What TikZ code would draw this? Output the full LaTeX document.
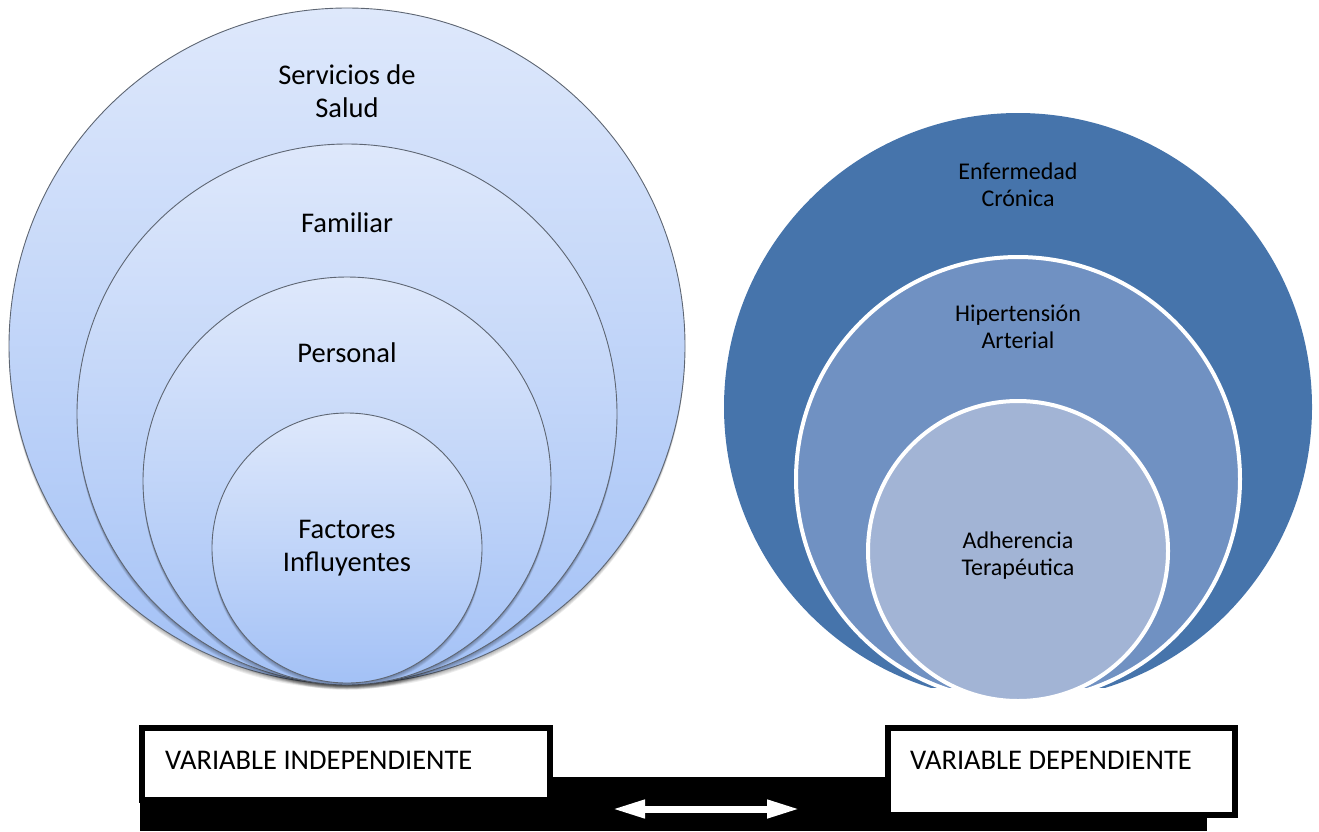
\documentclass[tikz,border=0pt]{standalone}
\usepackage{fontspec}
\setmainfont{Carlito}
\usetikzlibrary{arrows.meta,calc}

\definecolor{ringtop}{HTML}{DEE8FB}
\definecolor{ringbot}{HTML}{A3C1F6}
\definecolor{ringline}{HTML}{5E6673}
\definecolor{depouter}{HTML}{4674AB}
\definecolor{depmid}{HTML}{7091C2}
\definecolor{depinner}{HTML}{A2B4D5}

\tikzset{
  ring/.style={circle, inner sep=0pt, minimum size=#1, draw=ringline,
    line width=0.9pt, top color=ringtop, bottom color=ringbot},
  ringshadow/.style={fill=black, opacity=0.07},
  disc/.style={circle, inner sep=0pt, minimum size=#1},
  bigtext/.style={font=\fontsize{28.5}{33}\selectfont, align=center, anchor=base},
  smalltext/.style={font=\fontsize{24}{26.5}\selectfont, align=center, anchor=base},
  varbox/.style={draw=black, line width=6pt, fill=white, inner sep=0pt},
  boxtext/.style={font=\fontsize{28.5}{33}\selectfont, anchor=base west, inner sep=0pt},
}

\begin{document}
\begin{tikzpicture}[x=1pt, y=-1pt]
  \useasboundingbox (0,0) rectangle (1319,831);

  % independent variable: nested circles, each with a soft shadow below
  \foreach \k in {1,...,5} \fill[ringshadow] (347,346+\k) circle[radius=338];
  \node[ring=676pt] (sv) at (347,346) {};
  \foreach \k in {1,...,5} \fill[ringshadow] (347,414+\k) circle[radius=270];
  \node[ring=540pt] (fam) at (347,414) {};
  \foreach \k in {1,...,5} \fill[ringshadow] (347,481+\k) circle[radius=204];
  \node[ring=408pt] (per) at (347,481) {};
  \foreach \k in {1,...,5} \fill[ringshadow] (347,548+\k) circle[radius=135];
  \node[ring=270pt] (fac) at (347,548) {};

  % labels: the base anchor sits on the last line
  \node[bigtext] (svT)  at (347,117) {Servicios de\\Salud};
  \node[bigtext] (famT) at (347,232) {Familiar};
  \node[bigtext] (perT) at (347,362) {Personal};
  \node[bigtext] (facT) at (347,571) {Factores\\Influyentes};

  % dependent variable: nested discs with white rims
  \begin{scope}
    \clip (700,0) rectangle (1319,687);
    \node[disc=588pt, fill=depouter] (enf) at (1018,407) {};
    \node[disc=444pt, fill=depmid, draw=white, line width=4pt] (hip) at (1018,479) {};
  \end{scope}
  \node[disc=300pt, fill=depinner, draw=white, line width=4pt] (adh) at (1018,551) {};

  \node[smalltext] (enfT) at (1018,206) {Enfermedad\\Crónica};
  \node[smalltext] (hipT) at (1018,348) {Hipertensión\\Arterial};
  \node[smalltext] (adhT) at (1018,575) {Adherencia\\Terapéutica};

  % black band behind the two labels
  \fill[black] (140,777) rectangle (1207,831);

  \node[varbox, minimum width=408pt, minimum height=72pt] (indep) at (346,764) {};
  \node[varbox, minimum width=347pt, minimum height=87pt] (dep) at (1061.5,771.5) {};
  \node[boxtext] (indepT) at ($(indep.north west)+(26,44)$) {VARIABLE INDEPENDIENTE};
  \node[boxtext] (depT) at ($(dep.north west)+(25,44)$) {VARIABLE DEPENDIENTE};

  % two-way link between the variables
  \coordinate (linkL) at (612,809);
  \coordinate (linkR) at (800,809);
  \draw[white, line width=7pt,
    {Triangle[length=33pt,width=17pt]}-{Triangle[length=33pt,width=17pt]}]
    (linkL) -- (linkR);
\end{tikzpicture}
\end{document}
